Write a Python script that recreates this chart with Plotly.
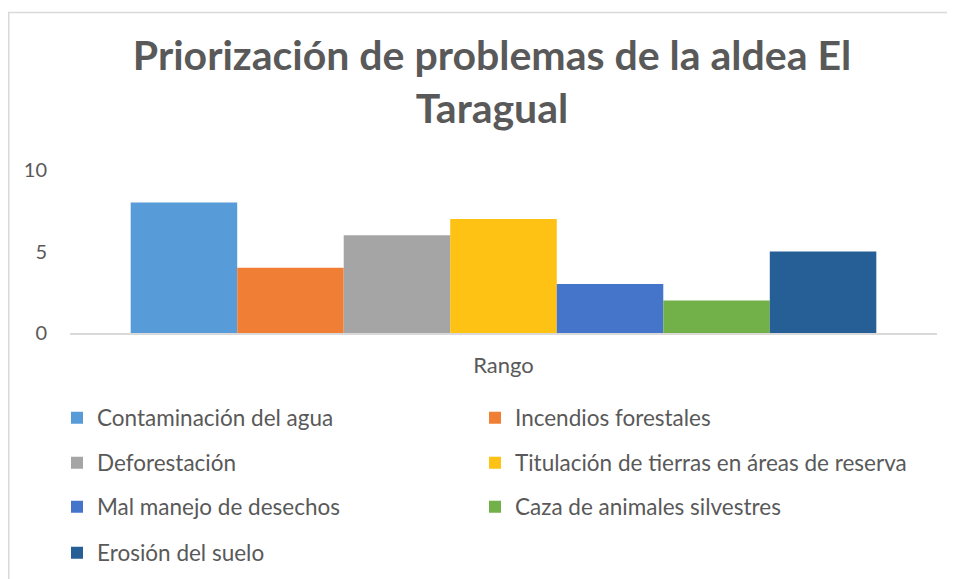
import plotly.graph_objects as go

categories = ["Rango"]
series_names = [
    "Contaminación del agua",
    "Incendios forestales",
    "Deforestación",
    "Titulación de tierras en áreas de reserva",
    "Mal manejo de desechos",
    "Caza de animales silvestres",
    "Erosión del suelo",
]
series_values = [8, 4, 6, 7, 3, 2, 5]
series_colors = ["#589bd9", "#f07f35", "#a5a5a5", "#fdc214", "#4575cb", "#72b04a", "#265f95"]
y_ticks = [0, 5, 10]

FONT = "Lato"
TXT = "#595959"

OFF = 8  # page body margin
W, H = 955 - OFF, 579 - OFF
ML, MT = 70 - OFF, 169.5 - OFF
MR = W - (937 - OFF)
MB = H - (333.5 - OFF)
PW, PH = W - ML - MR, H - MT - MB


def px_x(sx):
    return (sx - OFF - ML) / PW


def px_y(sy):
    return (MT + PH - (sy - OFF)) / PH


legend_rows = [418, 463, 507, 553]
legend_cols = [57, 475]

fig = go.Figure()
legends = {}
for i, (name, val, col) in enumerate(zip(series_names, series_values, series_colors)):
    key = "legend" if i == 0 else f"legend{i + 1}"
    fig.add_trace(go.Bar(
        x=categories, y=[val], name=name, marker=dict(color=col, line=dict(width=0)),
        legend=key,
    ))
    legends[key] = dict(
        orientation="h",
        xref="container", x=(legend_cols[i % 2] - OFF) / W, xanchor="left",
        yref="container", y=1 - (legend_rows[i // 2] - OFF) / H, yanchor="middle",
        font=dict(family=FONT, size=22.5, color=TXT),
        bgcolor="rgba(0,0,0,0)", itemclick=False, itemdoubleclick=False,
    )

fig.update_layout(
    width=W, height=H,
    margin=dict(l=ML, r=MR, t=MT, b=MB),
    paper_bgcolor="white", plot_bgcolor="white",
    barmode="group", bargap=0.14, bargroupgap=0,
    title=dict(
        text="Priorización de problemas de la aldea El<br>Taragual",
        x=(492 - OFF) / W, xref="container", xanchor="center",
        y=1 - 62 / H, yref="container", yanchor="top",
        font=dict(family=FONT, size=41, color=TXT, weight="bold"),
    ),
    xaxis=dict(
        showline=True, linecolor="#d9d9d9", linewidth=2,
        ticks="", showgrid=False, zeroline=False,
        tickfont=dict(family=FONT, size=22, color=TXT),
        ticklabelstandoff=12,
    ),
    yaxis=dict(
        range=[0, 10], tickvals=y_ticks, showgrid=False, zeroline=False,
        showline=False, ticks="",
        tickfont=dict(family=FONT, size=20, color=TXT),
        ticklabelstandoff=22,
    ),
    showlegend=True,
    **legends,
)

fig.add_shape(
    type="rect", xref="paper", yref="paper",
    x0=px_x(OFF + 0.75), x1=px_x(955 + 20),
    y0=px_y(579 + 20), y1=px_y(11),
    line=dict(color="#d9d9d9", width=1.5), fillcolor="rgba(0,0,0,0)", layer="below",
)

fig.write_html("out.html")
